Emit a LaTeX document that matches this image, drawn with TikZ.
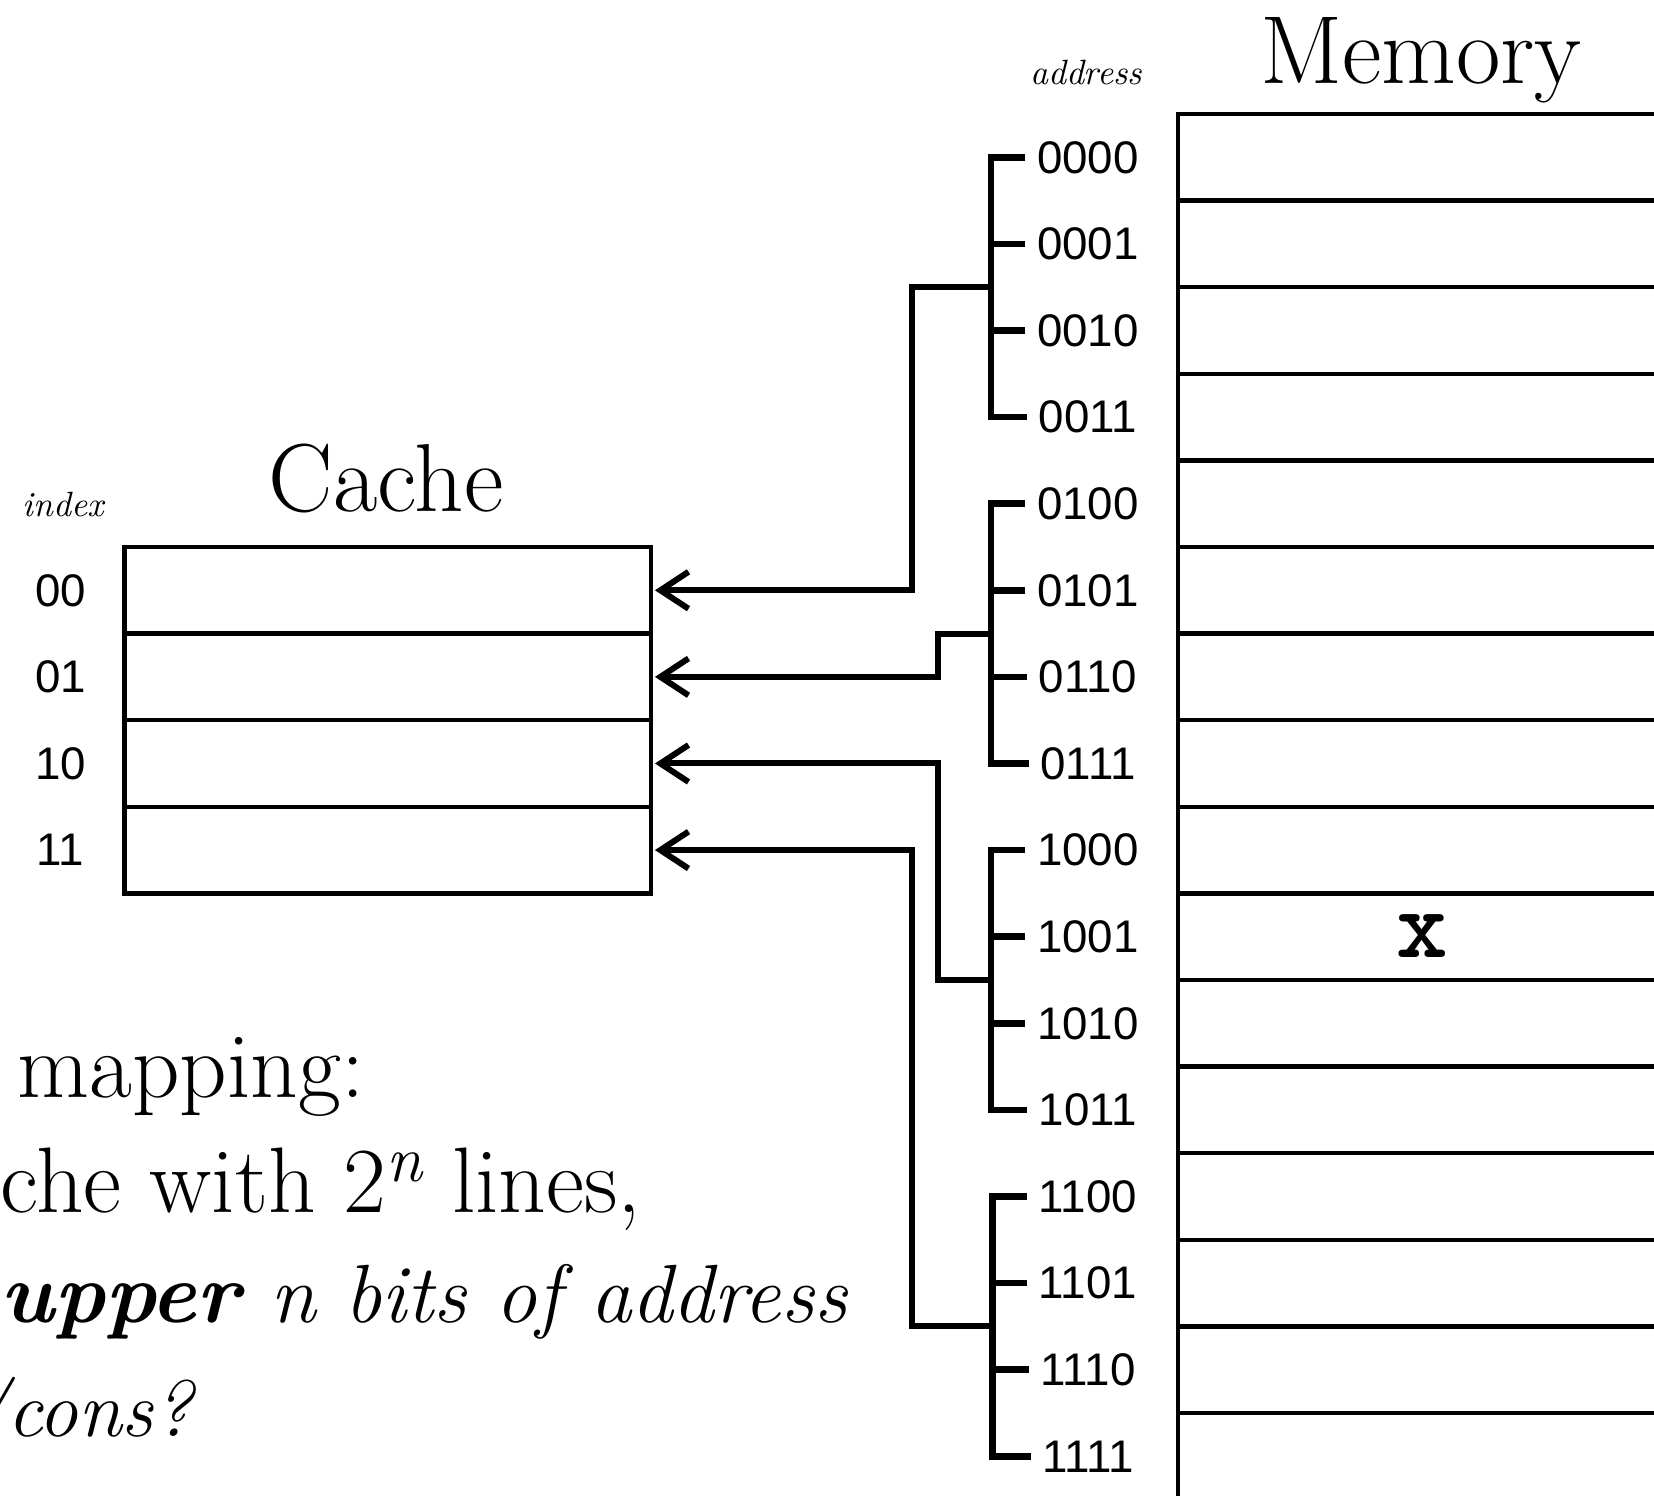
\documentclass[tikz,border=0pt]{standalone}
\usepackage{fontspec}
\newfontfamily\labelfont{Liberation Sans}
\usetikzlibrary{arrows.meta}

\begin{document}
\begin{tikzpicture}[>={Straight Barb[length=8pt,width=10.5pt]},scale=1,
memrow/.style={rectangle, draw, line width=1.25pt, minimum width=6cm, minimum height=0.866cm, inner sep=0},
cacherow/.style={rectangle, draw, line width=1.25pt, minimum width=5.265cm, minimum height=0.866cm, inner sep=0},
addr/.style={inner sep=0.11cm, font=\labelfont\fontsize{13}{13}\selectfont},
idx/.style={inner sep=0, font=\labelfont\fontsize{13}{13}\selectfont},
heading/.style={anchor=base, inner sep=0, font=\fontsize{27.5}{32}\selectfont},
tag/.style={anchor=base, inner sep=0, font=\itshape\fontsize{10}{12}\selectfont},
body/.style={anchor=base west, inner sep=0, font=\fontsize{26.5}{31}\selectfont},
bracket/.style={line width=1.9pt},
link/.style={->, line width=1.7pt, shorten >=0.5pt}]

\useasboundingbox (0,0) rectangle (16.54,14.96);
\clip (0,0) rectangle (16.54,14.96);

% memory
\draw (14.21,14.12) node[heading] (MT) {Memory};
\draw (10.86,14.11) node[tag] (AT) {address};
\draw (14.78,13.387) node[memrow] (M0) {};
\draw (14.78,12.521) node[memrow] (M1) {};
\draw (14.78,11.655) node[memrow] (M2) {};
\draw (14.78,10.789) node[memrow] (M3) {};
\draw (14.78,9.923) node[memrow] (M4) {};
\draw (14.78,9.057) node[memrow] (M5) {};
\draw (14.78,8.191) node[memrow] (M6) {};
\draw (14.78,7.325) node[memrow] (M7) {};
\draw (14.78,6.459) node[memrow] (M8) {};
\draw (14.78,5.593) node[memrow] (M9) {};
\draw (14.78,4.727) node[memrow] (M10) {};
\draw (14.78,3.861) node[memrow] (M11) {};
\draw (14.78,2.995) node[memrow] (M12) {};
\draw (14.78,2.129) node[memrow] (M13) {};
\draw (14.78,1.263) node[memrow] (M14) {};
\draw (14.78,0.397) node[memrow] (M15) {};
\draw (14.22,5.60) node[font=\ttfamily\bfseries\fontsize{28}{28}\selectfont, inner sep=0] (X) {x};

% addresses
\draw (10.88,13.387) node[addr] (A0) {0000};
\draw (10.88,12.521) node[addr] (A1) {0001};
\draw (10.88,11.655) node[addr] (A2) {0010};
\draw (10.88,10.789) node[addr] (A3) {0011};
\draw (10.88,9.923) node[addr] (A4) {0100};
\draw (10.88,9.057) node[addr] (A5) {0101};
\draw (10.88,8.191) node[addr] (A6) {0110};
\draw (10.88,7.325) node[addr] (A7) {0111};
\draw (10.88,6.459) node[addr] (A8) {1000};
\draw (10.88,5.593) node[addr] (A9) {1001};
\draw (10.88,4.727) node[addr] (A10) {1010};
\draw (10.88,3.861) node[addr] (A11) {1011};
\draw (10.88,2.995) node[addr] (A12) {1100};
\draw (10.88,2.129) node[addr] (A13) {1101};
\draw (10.88,1.263) node[addr] (A14) {1110};
\draw (10.88,0.397) node[addr] (A15) {1111};

% cache
\draw (3.86,9.84) node[heading] (CT) {Cache};
\draw (0.63,9.79) node[tag] (IT) {index};
\draw (3.8775,9.057) node[cacherow] (C0) {};
\draw (3.8775,8.191) node[cacherow] (C1) {};
\draw (3.8775,7.325) node[cacherow] (C2) {};
\draw (3.8775,6.459) node[cacherow] (C3) {};
\draw (0.605,9.057) node[idx] (I0) {00};
\draw (0.605,8.191) node[idx] (I1) {01};
\draw (0.605,7.325) node[idx] (I2) {10};
\draw (0.605,6.459) node[idx] (I3) {11};

% brackets
\draw[bracket] (A0.west) -- ++(-0.345,0) |- (A3.west);
\draw[bracket] (A1.west) -- ++(-0.345,0);
\draw[bracket] (A2.west) -- ++(-0.345,0);
\draw[bracket] (A4.west) -- ++(-0.345,0) |- (A7.west);
\draw[bracket] (A5.west) -- ++(-0.345,0);
\draw[bracket] (A6.west) -- ++(-0.345,0);
\draw[bracket] (A8.west) -- ++(-0.345,0) |- (A11.west);
\draw[bracket] (A9.west) -- ++(-0.345,0);
\draw[bracket] (A10.west) -- ++(-0.345,0);
\draw[bracket] (A12.west) -- ++(-0.345,0) |- (A15.west);
\draw[bracket] (A13.west) -- ++(-0.345,0);
\draw[bracket] (A14.west) -- ++(-0.345,0);

\coordinate (G1) at (9.915,12.088);
\coordinate (G2) at (9.915,8.624);
\coordinate (G3) at (9.915,5.160);
\coordinate (G4) at (9.915,1.696);

\draw[link] (G1) -- ++(-0.795,0) |- (C0.east);
\draw[link] (G2) -- ++(-0.535,0) |- (C1.east);
\draw[link] (G3) -- ++(-0.535,0) |- (C2.east);
\draw[link] (G4) -- ++(-0.795,0) |- (C3.east);

% text
\draw (0.17,3.98) node[body] (L1) {mapping:};
\draw (0,2.83) node[body] (L2) {che with 2\textsuperscript{\itshape n} lines,};
\draw (0,1.73) node[body] (L3) {\itshape\fontsize{24.5}{29}\selectfont{\bfseries upper} \fontsize{23.5}{28}\selectfont n bits of address};
\draw (-0.33,0.59) node[body] (L4) {\itshape\fontsize{22.5}{27}\selectfont /cons?};
\end{tikzpicture}
\end{document}
